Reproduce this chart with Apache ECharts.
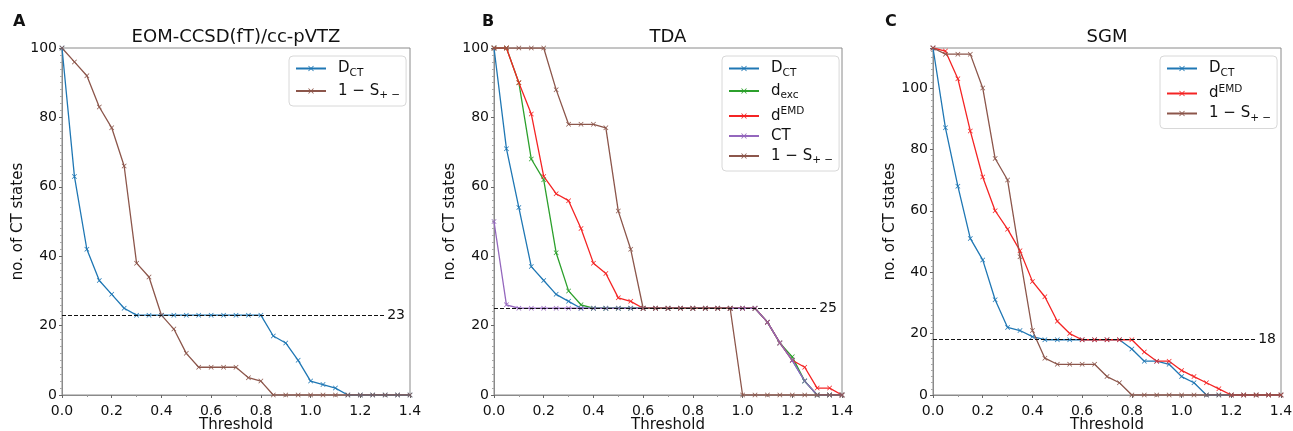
<!DOCTYPE html>
<html><head><meta charset="utf-8">
<script src="https://cdn.jsdelivr.net/npm/echarts@6/dist/echarts.min.js"></script>
<style>html,body{margin:0;padding:0;background:#fff}#c{width:1293px;height:431px}</style>
</head><body><div id="c"></div>
<script>
var thresholds = [0.0,0.05,0.1,0.15,0.2,0.25,0.3,0.35,0.4,0.45,0.5,0.55,0.6,0.65,0.7,0.75,0.8,0.85,0.9,0.95,1.0,1.05,1.1,1.15,1.2,1.25,1.3,1.35,1.4];
var xTicks = ['0.0','0.2','0.4','0.6','0.8','1.0','1.2','1.4'];

// Panel A: EOM-CCSD(fT)/cc-pVTZ
var A_DCT = [100,63,42,33,29,25,23,23,23,23,23,23,23,23,23,23,23,17,15,10,4,3,2,0,0,0,0,0,0];
var A_S   = [100,96,92,83,77,66,38,34,23,19,12,8,8,8,8,5,4,0,0,0,0,0,0,0,0,0,0,0,0];
var A_ref = 23;

// Panel B: TDA
var B_DCT  = [100,71,54,37,33,29,27,25,25,25,25,25,25,25,25,25,25,25,25,25,25,25,21,15,10,4,0,0,0];
var B_dexc = [100,100,90,68,62,41,30,26,25,25,25,25,25,25,25,25,25,25,25,25,25,25,21,15,11,4,0,0,0];
var B_dEMD = [100,100,90,81,63,58,56,48,38,35,28,27,25,25,25,25,25,25,25,25,25,25,21,15,10,8,2,2,0];
var B_CT   = [50,26,25,25,25,25,25,25,25,25,25,25,25,25,25,25,25,25,25,25,25,25,21,15,10,4,0,0,0];
var B_S    = [100,100,100,100,100,88,78,78,78,77,53,42,25,25,25,25,25,25,25,25,0,0,0,0,0,0,0,0,0];
var B_ref = 25;

// Panel C: SGM
var C_DCT  = [113,87,68,51,44,31,22,21,19,18,18,18,18,18,18,18,15,11,11,10,6,4,0,0,0,0,0,0,0];
var C_dEMD = [113,112,103,86,71,60,54,47,37,32,24,20,18,18,18,18,18,14,11,11,8,6,4,2,0,0,0,0,0];
var C_S    = [113,111,111,111,100,77,70,45,21,12,10,10,10,10,6,4,0,0,0,0,0,0,0,0,0,0,0,0,0];
var C_ref = 18;

var panelTitles = ['EOM-CCSD(fT)/cc-pVTZ','TDA','SGM'];
var panelLetters = ['A','B','C'];
var xName = 'Threshold';
var yName = 'no. of CT states';
var yMax = [100,100,113];

var COL = {DCT:'#1f77b4', dexc:'#2ca02c', dEMD:'#f42424', CT:'#9467bd', S:'#8c564b'};
var LABELS = {
  DCT:'{m|D}{sub|CT}',
  dexc:'{m|d}{sub|exc}',
  dEMD:'{m|d}{sup|EMD}',
  CT:'{m|CT}',
  S:'{m|1 \u2212 S}{sub|+ \u2212}'
};
var FONT = 'DejaVu Sans';
var XMARK = 'path://M0,1 L1,0 L5,4 L9,0 L10,1 L6,5 L10,9 L9,10 L5,6 L1,10 L0,9 L4,5 Z';

function pairs(arr){ return thresholds.map(function(x,i){ return [x, arr[i]]; }); }

var gridLefts = [62, 494, 933];
var letterLefts = [13, 482, 885];
var grids = [], xAxes = [], yAxes = [], series = [], titles = [], legends = [];

gridLefts.forEach(function(l, i){
  grids.push({left:l, width:348, top:48, bottom:36, show:true, borderColor:'#8a8a8a', borderWidth:1,
    containLabel:false, outerBoundsMode:'none'});
  xAxes.push({type:'value', gridIndex:i, min:0, max:1.4, interval:0.2,
    axisLine:{show:true, lineStyle:{color:'#8a8a8a'}},
    axisTick:{show:true, length:3, lineStyle:{color:'#666'}},
    minorTick:{show:true, splitNumber:2, length:2, lineStyle:{color:'#999'}},
    splitLine:{show:false},
    axisLabel:{fontFamily:FONT, fontSize:14, color:'#111', margin:9,
      formatter:function(v){ return v.toFixed(1); }}
  });
  yAxes.push({type:'value', gridIndex:i, min:0, max:yMax[i], interval:20,
    name:yName, nameLocation:'middle', nameGap:i===2?33:36,
    nameTextStyle:{fontFamily:FONT, fontSize:15, color:'#111'},
    axisLine:{show:true, lineStyle:{color:'#8a8a8a'}},
    axisTick:{show:true, length:3, lineStyle:{color:'#666'}},
    minorTick:{show:true, splitNumber:10, length:2, lineStyle:{color:'#aaa'}},
    splitLine:{show:false},
    axisLabel:{fontFamily:FONT, fontSize:14, color:'#111', margin:5,
      showMaxLabel: i!==2 ? true : false}
  });
  titles.push({text:panelTitles[i], left:l+174, top:28, textAlign:'center', padding:0,
    textStyle:{fontFamily:FONT, fontSize:18, fontWeight:'normal', color:'#111'}});
  titles.push({text:panelLetters[i], left:letterLefts[i], top:14, padding:0,
    textStyle:{fontFamily:FONT, fontSize:16, fontWeight:'bold', color:'#111'}});
  titles.push({text:xName, left:l+174, top:418, textAlign:'center', padding:0,
    textStyle:{fontFamily:FONT, fontSize:15, fontWeight:'normal', color:'#111'}});
});

function addSeries(g, key, arr, refVal){
  var s = {type:'line', name:key, xAxisIndex:g, yAxisIndex:g, data:pairs(arr),
    symbol:XMARK, symbolSize:5, showAllSymbol:true,
    lineStyle:{color:COL[key], width:1.3},
    itemStyle:{color:COL[key]}, animation:false, z:2};
  if (refVal !== undefined) {
    s.markLine = {silent:true, symbol:'none',
      lineStyle:{color:'#111', type:[4,2], width:1},
      label:{show:true, position:'end', distance:2, formatter:String(refVal),
        fontFamily:FONT, fontSize:14, color:'#111'},
      data:[[{coord:[0, refVal]}, {coord:[1.3, refVal]}]]};
  }
  series.push(s);
}
addSeries(0,'DCT',A_DCT, A_ref);
addSeries(0,'S',A_S);
addSeries(1,'DCT',B_DCT, B_ref);
addSeries(1,'dexc',B_dexc);
addSeries(1,'dEMD',B_dEMD);
addSeries(1,'CT',B_CT);
addSeries(1,'S',B_S);
addSeries(2,'DCT',C_DCT, C_ref);
addSeries(2,'dEMD',C_dEMD);
addSeries(2,'S',C_S);

var rich = {
  m:{fontFamily:FONT, fontSize:15, color:'#111', lineHeight:20, padding:[0,0,0,7]},
  sub:{fontFamily:FONT, fontSize:10.5, color:'#111', verticalAlign:'bottom', lineHeight:14, padding:[6,0,0,0]},
  sup:{fontFamily:FONT, fontSize:10.5, color:'#111', verticalAlign:'top', lineHeight:14, padding:[0,0,6,0]}
};
function mkLegend(names, left){
  return {orient:'vertical', left:left, top:56, data:names,
    itemWidth:30, itemHeight:7, itemGap:5, padding:[5,6,5,6],
    backgroundColor:'#fff', borderColor:'#d8d8d8', borderWidth:1, borderRadius:4,
    selectedMode:false,
    formatter:function(n){ return LABELS[n]; },
    textStyle:{rich:rich, fontFamily:FONT, fontSize:15, color:'#111'}};
}
legends.push(mkLegend(['DCT','S'], 289));
legends.push(mkLegend(['DCT','dexc','dEMD','CT','S'], 722));
legends.push(mkLegend(['DCT','dEMD','S'], 1160));

var chart = echarts.init(document.getElementById('c'), null, {renderer:'canvas'});
chart.setOption({animation:false, backgroundColor:'#fff', title:titles, grid:grids,
  xAxis:xAxes, yAxis:yAxes, legend:legends, series:series});
</script></body></html>
